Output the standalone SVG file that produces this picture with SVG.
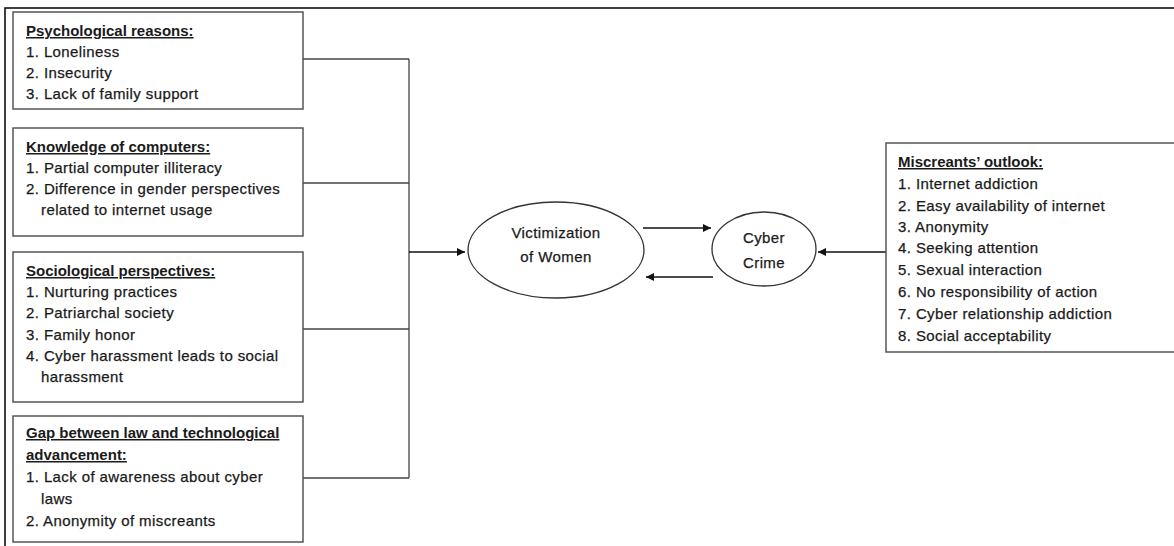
<svg xmlns="http://www.w3.org/2000/svg" width="1174" height="546" viewBox="0 0 1174 546">
<defs>
<marker id="ah" viewBox="0 0 10 10" refX="10" refY="5" markerWidth="8" markerHeight="8" markerUnits="userSpaceOnUse" orient="auto">
<path d="M0,0 L10,5 L0,10 z" fill="#111"/>
</marker>
<style>
.box{fill:#fff;stroke:#555;stroke-width:1.5}
.frame{stroke:#000;stroke-width:1.5;fill:none}
.t{font-family:"Liberation Sans",Arial,sans-serif;font-size:15px;fill:#1a1a1a;stroke:#1a1a1a;stroke-width:0.25;letter-spacing:0.4px}
.h{font-weight:bold;text-decoration:underline;letter-spacing:0;stroke-width:0}
.c{text-anchor:middle}
.con{stroke:#444;stroke-width:1.3;fill:none}
.arr{stroke:#111;stroke-width:1.5;fill:none}
.el{fill:#fff;stroke:#333;stroke-width:1.3}
</style>
</defs>
<rect width="1174" height="546" fill="#fff"/>
<path class="frame" d="M1174,8 H5 V546"/>
<g id="connectors">
<path class="con" d="M303,59 H409 M303,183 H409 M303,329 H409 M303,478 H409 M409,59 V478"/>
<path class="arr" d="M409,252 H465" marker-end="url(#ah)"/>
<path class="arr" d="M643,228 H711" marker-end="url(#ah)"/>
<path class="arr" d="M713,277 H646" marker-end="url(#ah)"/>
<path class="arr" d="M886,252 H818" marker-end="url(#ah)"/>
</g>
<g id="psychological">
<rect class="box" x="13" y="12" width="290" height="97"/>
<text class="t h" x="26" y="36">Psychological reasons:</text>
<text class="t" x="26" y="57">1. Loneliness</text>
<text class="t" x="26" y="78">2. Insecurity</text>
<text class="t" x="26" y="99">3. Lack of family support</text>
</g>
<g id="knowledge">
<rect class="box" x="13" y="128" width="290" height="108"/>
<text class="t h" x="26" y="152">Knowledge of computers:</text>
<text class="t" x="26" y="173">1. Partial computer illiteracy</text>
<text class="t" x="26" y="194">2. Difference in gender perspectives</text>
<text class="t" x="41" y="215">related to internet usage</text>
</g>
<g id="sociological">
<rect class="box" x="13" y="252" width="290" height="150"/>
<text class="t h" x="26" y="276">Sociological perspectives:</text>
<text class="t" x="26" y="297">1. Nurturing practices</text>
<text class="t" x="26" y="318">2. Patriarchal society</text>
<text class="t" x="26" y="340">3. Family honor</text>
<text class="t" x="26" y="361">4. Cyber harassment leads to social</text>
<text class="t" x="41" y="382">harassment</text>
</g>
<g id="gap">
<rect class="box" x="13" y="416" width="290" height="126"/>
<text class="t h" x="26" y="438">Gap between law and technological</text>
<text class="t h" x="26" y="460">advancement:</text>
<text class="t" x="26" y="482">1. Lack of awareness about cyber</text>
<text class="t" x="41" y="504">laws</text>
<text class="t" x="26" y="526">2. Anonymity of miscreants</text>
</g>
<g id="victimization">
<ellipse class="el" cx="556" cy="250" rx="88" ry="48"/>
<text class="t c" x="556" y="238">Victimization</text>
<text class="t c" x="556" y="262">of Women</text>
</g>
<g id="cybercrime">
<ellipse class="el" cx="764" cy="249" rx="52" ry="37"/>
<text class="t c" x="764" y="243">Cyber</text>
<text class="t c" x="764" y="268">Crime</text>
</g>
<g id="miscreants">
<rect class="box" x="886" y="143" width="300" height="209"/>
<text class="t h" x="898" y="167">Miscreants’ outlook:</text>
<text class="t" x="898" y="189">1. Internet addiction</text>
<text class="t" x="898" y="211">2. Easy availability of internet</text>
<text class="t" x="898" y="232">3. Anonymity</text>
<text class="t" x="898" y="253">4. Seeking attention</text>
<text class="t" x="898" y="275">5. Sexual interaction</text>
<text class="t" x="898" y="297">6. No responsibility of action</text>
<text class="t" x="898" y="319">7. Cyber relationship addiction</text>
<text class="t" x="898" y="341">8. Social acceptability</text>
</g>
</svg>
